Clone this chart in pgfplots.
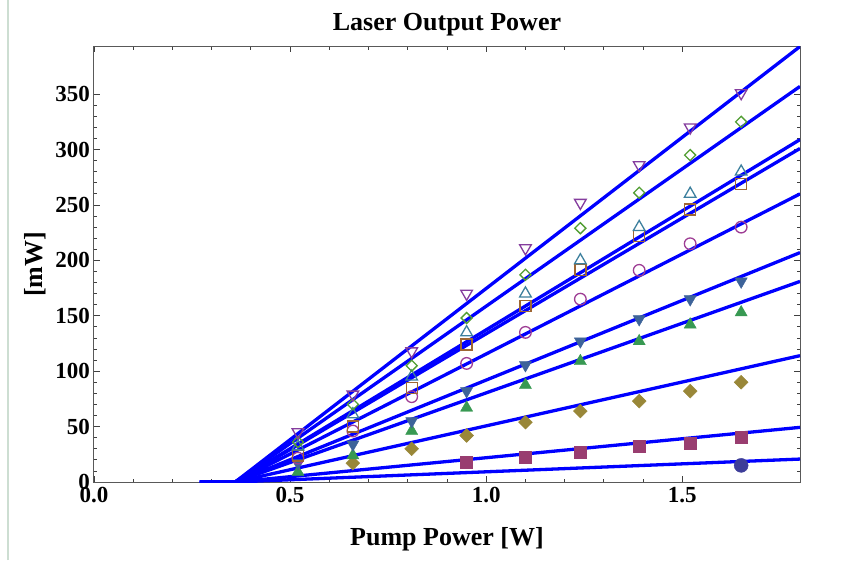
\documentclass[border=0pt]{standalone}
\usepackage{fontspec}
\setmainfont{Liberation Serif}
\usepackage{pgfplots}
\pgfplotsset{compat=1.18}
\definecolor{c1}{rgb}{0.24,0.24,0.60}
\definecolor{c2}{rgb}{0.60,0.24,0.44}
\definecolor{c3}{rgb}{0.60,0.53,0.22}
\definecolor{c4}{rgb}{0.22,0.60,0.32}
\definecolor{c5}{rgb}{0.24,0.39,0.60}
\definecolor{c6}{rgb}{0.62,0.24,0.58}
\definecolor{c7}{rgb}{0.62,0.40,0.20}
\definecolor{c8}{rgb}{0.24,0.50,0.62}
\definecolor{c9}{rgb}{0.32,0.62,0.20}
\definecolor{c10}{rgb}{0.52,0.24,0.62}
\definecolor{edge}{RGB}{205,222,210}
\begin{document}
\begin{tikzpicture}[x=1pt,y=1pt]
\useasboundingbox (-94,-78) rectangle (768,482);
\fill[white] (-94,-78) rectangle (768,482);
\draw[color=edge, line width=2pt] (-86,-78) -- (-86,482);
\begin{axis}[
  at={(0,0)}, anchor=south west,
  scale only axis, width=706pt, height=435.5pt,
  xmin=0, xmax=1.8, ymin=0, ymax=393,
  xtick={0,0.5,1,1.5}, minor x tick num=4,
  ytick={0,50,100,150,200,250,300,350}, minor y tick num=4,
  tick align=inside, xtick pos=both, ytick pos=both,
  xticklabel pos=lower, yticklabel pos=left,
  major tick length=6pt, minor tick length=3.5pt,
  every tick/.style={black!75, line width=0.8pt},
  axis line style={black!65, line width=1pt},
  /pgf/number format/assume math mode=true,
  tick label style={font=\fontsize{23}{23}\selectfont\bfseries, inner sep=0pt},
  xticklabel style={/pgf/number format/fixed, /pgf/number format/fixed zerofill, /pgf/number format/precision=1, yshift=-5pt},
  yticklabel style={/pgf/number format/fixed, xshift=-4pt},
  title={Laser Output Power},
  title style={font=\fontsize{26}{26}\selectfont\bfseries, at={(axis description cs:0.5,1.0241)}, anchor=base},
  xlabel={Pump Power [W]},
  xlabel style={font=\fontsize{26}{26}\selectfont\bfseries, at={(axis description cs:0.5,-0.1447)}, anchor=base},
  ylabel={[mW]},
  ylabel style={font=\fontsize{26}{26}\selectfont\bfseries, at={(axis description cs:-0.0836,0.5)}, anchor=center},
]
% fitted lines
\addplot[blue, line width=3.3pt] coordinates {(0.27,0) (0.36,0) (1.8,393)};
\addplot[blue, line width=3.3pt] coordinates {(0.27,0) (0.36,0) (1.8,357)};
\addplot[blue, line width=3.3pt] coordinates {(0.27,0) (0.36,0) (1.8,309)};
\addplot[blue, line width=3.3pt] coordinates {(0.27,0) (0.36,0) (1.8,301)};
\addplot[blue, line width=3.3pt] coordinates {(0.27,0) (0.36,0) (1.8,260)};
\addplot[blue, line width=3.3pt] coordinates {(0.27,0) (0.36,0) (1.8,207)};
\addplot[blue, line width=3.3pt] coordinates {(0.27,0) (0.36,0) (1.8,181)};
\addplot[blue, line width=3.3pt] coordinates {(0.27,0) (0.36,0) (1.8,114)};
\addplot[blue, line width=3.3pt] coordinates {(0.27,0) (0.36,0) (1.8,49.3)};
\addplot[blue, line width=3.3pt] coordinates {(0.27,0) (0.36,0) (1.8,20.7)};
% data
\addplot[only marks, mark=*, mark size=7pt, mark options={draw=c1, fill=c1}] coordinates {(1.65,15)};
\addplot[only marks, mark=square*, mark size=6pt, mark options={draw=c2, fill=c2}] coordinates {(0.95,18) (1.10,22.5) (1.24,27) (1.39,32) (1.52,35) (1.65,40)};
\addplot[only marks, mark=square*, mark size=4.9pt, mark options={rotate=45, draw=c3, fill=c3}] coordinates {(0.66,17) (0.81,30) (0.95,42) (1.10,54) (1.24,64) (1.39,73) (1.52,82) (1.65,90)};
\addplot[only marks, mark=triangle*, mark size=7pt, mark options={draw=c4, fill=c4}] coordinates {(0.52,9) (0.66,24) (0.81,46) (0.95,67) (1.10,87.5) (1.24,109) (1.39,127) (1.52,142) (1.65,153)};
\addplot[only marks, mark=triangle*, mark size=7pt, mark options={rotate=180, draw=c5, fill=c5}] coordinates {(0.52,17) (0.66,34) (0.81,55) (0.95,82) (1.10,105.5) (1.24,127) (1.39,147) (1.52,165) (1.65,181)};
\addplot[only marks, mark=o, mark size=5.8pt, mark options={draw=c6, line width=1.3pt}] coordinates {(0.52,21.5) (0.66,46) (0.81,77) (0.95,107) (1.10,135) (1.24,165) (1.39,191) (1.52,215) (1.65,230)};
\addplot[only marks, mark=square, mark size=5.5pt, mark options={draw=c7, line width=1.3pt}] coordinates {(0.52,24) (0.66,50) (0.81,85) (0.95,124) (1.10,159) (1.24,191) (1.39,222) (1.52,246) (1.65,269)};
\addplot[only marks, mark=triangle, mark size=6.7pt, mark options={draw=c8, line width=1.3pt}] coordinates {(0.52,32) (0.66,61) (0.81,95) (0.95,135) (1.10,170) (1.24,200) (1.39,230) (1.52,260) (1.65,280)};
\addplot[only marks, mark=square, mark size=3.9pt, mark options={rotate=45, draw=c9, line width=1.3pt}] coordinates {(0.52,36) (0.66,70) (0.81,105) (0.95,148) (1.10,187) (1.24,229) (1.39,261) (1.52,295) (1.65,325)};
\addplot[only marks, mark=triangle, mark size=6.7pt, mark options={rotate=180, draw=c10, line width=1.3pt}] coordinates {(0.52,45) (0.66,79) (0.81,118) (0.95,170) (1.10,211) (1.24,252) (1.39,286) (1.52,320) (1.65,351)};
\end{axis}
\end{tikzpicture}
\end{document}
